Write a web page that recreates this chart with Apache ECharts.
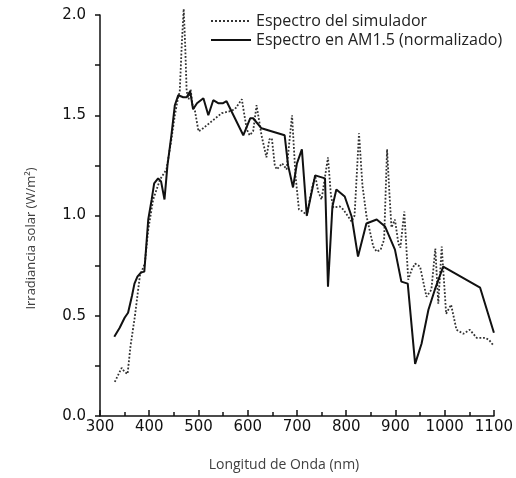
<!DOCTYPE html>
<html>
<head>
<meta charset="utf-8">
<script src="https://cdn.jsdelivr.net/npm/echarts@6/dist/echarts.min.js"></script>
<style>html,body{margin:0;padding:0;background:#fff}#c{width:516px;height:478px}</style>
</head>
<body>
<div id="c"></div>
<script>
var simName = 'Espectro del simulador';
var amName = 'Espectro en AM1.5 (normalizado)';
var xTitle = 'Longitud de Onda (nm)';
var yTitle = 'Irradiancia solar (W/m²)';

var simWavelength = [330,338,344,350,356,362,371,381,391,398,408,415,422,435,445,452,458,462,466,470,473,476,480,484,488,493,500,507,517,527,537,547,564,574,588,598,604,611,618,628,638,644,649,655,659,670,679,690,697,704,712,720,730,737,743,750,763,769,774,787,794,811,817,826,833,841,855,862,870,877,883,888,892,899,906,910,918,926,933,940,950,963,973,981,987,994,1003,1013,1024,1038,1051,1065,1082,1090,1098];
var simValues = [0.17,0.21,0.24,0.22,0.21,0.35,0.50,0.70,0.76,0.93,1.08,1.13,1.18,1.23,1.38,1.50,1.58,1.62,1.85,2.03,1.85,1.62,1.58,1.63,1.55,1.52,1.42,1.43,1.45,1.47,1.49,1.51,1.52,1.53,1.58,1.43,1.40,1.42,1.55,1.40,1.29,1.38,1.385,1.25,1.23,1.26,1.23,1.50,1.20,1.03,1.02,1.00,1.13,1.20,1.12,1.08,1.29,1.10,1.04,1.045,1.03,0.97,1.00,1.41,1.15,1.00,0.845,0.82,0.83,0.88,1.33,1.10,0.94,0.98,0.86,0.84,1.02,0.68,0.73,0.76,0.745,0.595,0.63,0.835,0.56,0.845,0.51,0.555,0.43,0.41,0.43,0.39,0.39,0.38,0.355];

var amWavelength = [329,340,350,357,365,370,376,383,390,398,405,410,418,424,431,437,445,452,459,469,476,483,489,497,510,520,530,540,550,557,575,591,605,611,628,648,675,682,692,700,710,720,737,757,763,772,780,797,811,824,841,862,879,899,912,925,940,953,967,980,997,1072,1100];
var amValues = [0.395,0.44,0.49,0.515,0.60,0.66,0.695,0.715,0.72,0.98,1.08,1.16,1.185,1.17,1.08,1.25,1.40,1.55,1.60,1.59,1.59,1.62,1.53,1.56,1.585,1.50,1.575,1.56,1.56,1.57,1.48,1.40,1.485,1.485,1.435,1.42,1.40,1.25,1.14,1.26,1.33,1.00,1.20,1.185,0.645,1.045,1.13,1.095,0.995,0.795,0.96,0.98,0.945,0.83,0.67,0.66,0.26,0.36,0.53,0.63,0.745,0.64,0.415];

var xTicks = [300,400,500,600,700,800,900,1000,1100];
var yTicks = [0.0,0.5,1.0,1.5,2.0];

function pairs(xs, ys){ var out=[]; for(var i=0;i<xs.length;i++) out.push([xs[i],ys[i]]); return out; }

var chart = echarts.init(document.getElementById('c'), null, {renderer:'canvas'});
chart.setOption({
  animation:false,
  backgroundColor:'#fff',
  grid:{left:100,right:22,top:15,bottom:62},
  legend:{
    orient:'vertical', left:210, top:13, padding:0, itemGap:3, itemWidth:40, itemHeight:15,
    itemStyle:{opacity:0},
    textStyle:{fontFamily:'Open Sans',fontSize:16,color:'#222'},
    data:[simName, amName]
  },
  xAxis:{
    type:'value', min:xTicks[0], max:xTicks[xTicks.length-1], interval:100,
    name:xTitle, nameLocation:'middle', nameGap:42,
    nameTextStyle:{fontFamily:'Open Sans',fontSize:14,color:'#404040',padding:[0,26,0,0]},
    axisLine:{show:true,onZero:false,lineStyle:{color:'#111',width:1.5}},
    axisTick:{show:true,inside:true,length:6,lineStyle:{color:'#111',width:1.5}},
    minorTick:{show:true,splitNumber:2,length:4,lineStyle:{color:'#111',width:1.5}},
    axisLabel:{margin:4,fontFamily:'DejaVu Sans',fontSize:15,color:'#111',formatter:function(v){return String(v);}},
    splitLine:{show:false}
  },
  yAxis:{
    type:'value', min:yTicks[0], max:yTicks[yTicks.length-1], interval:0.5,
    name:yTitle, nameLocation:'middle', nameGap:62, nameRotate:90,
    nameTextStyle:{fontFamily:'Open Sans',fontSize:13,color:'#404040',padding:[0,46,0,0]},
    axisLine:{show:true,lineStyle:{color:'#111',width:1.5}},
    axisTick:{show:true,inside:false,length:5,lineStyle:{color:'#111',width:1.5}},
    minorTick:{show:true,splitNumber:2,length:5,lineStyle:{color:'#111',width:1.5}},
    axisLabel:{margin:14,fontFamily:'DejaVu Sans',fontSize:15,color:'#111',formatter:function(v){return v.toFixed(1);}},
    splitLine:{show:false}
  },
  series:[
    {name:simName,type:'line',symbol:'none',clip:false,data:pairs(simWavelength,simValues),
     lineStyle:{type:'dotted',width:1.8,color:'#333'},itemStyle:{color:'#333'}},
    {name:amName,type:'line',symbol:'none',clip:false,data:pairs(amWavelength,amValues),
     lineStyle:{type:'solid',width:2,color:'#111'},itemStyle:{color:'#111'}}
  ]
});
</script>
</body>
</html>
